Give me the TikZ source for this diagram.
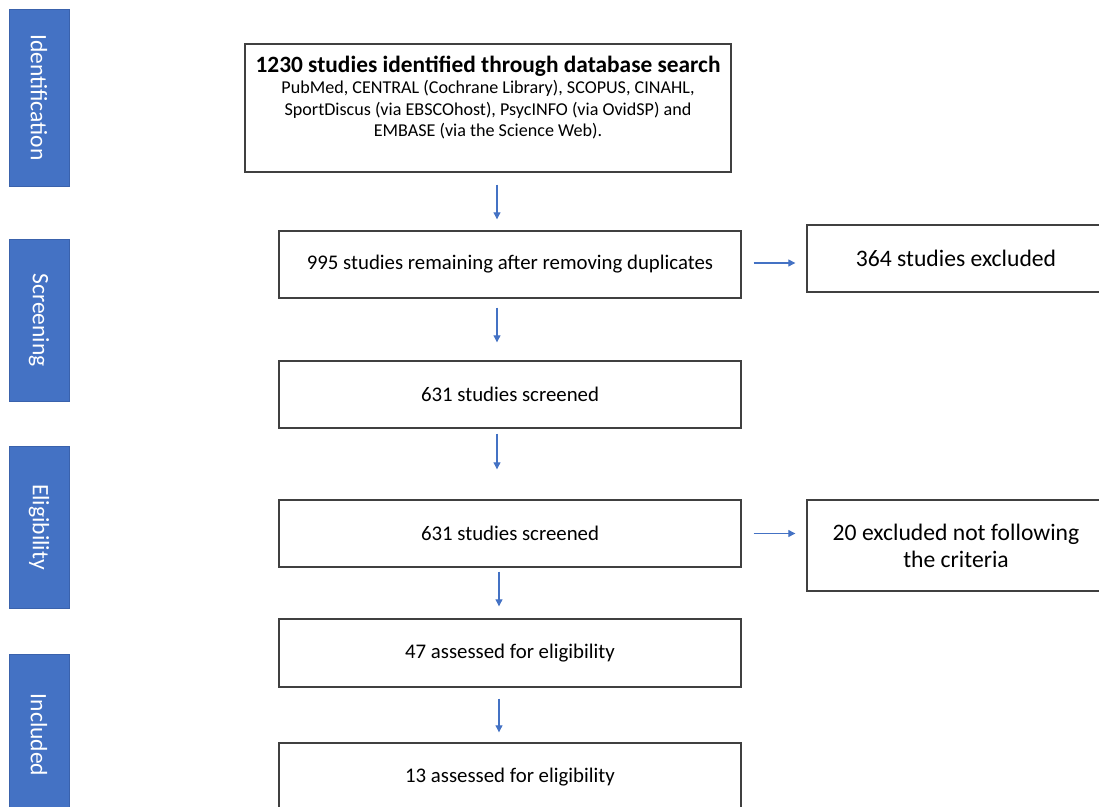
\documentclass[tikz,border=0pt]{standalone}
\usepackage{fontspec}
\setmainfont{Carlito}
\usetikzlibrary{arrows.meta,positioning}

\definecolor{phase}{HTML}{4472C4}
\definecolor{phaseedge}{HTML}{3A62AC}
\definecolor{boxline}{HTML}{404040}

\begin{document}
\begin{tikzpicture}[x=0.02cm,y=-0.02cm,
  phasebar/.style={draw=phaseedge,fill=phase,text=white,rotate=-90,
    minimum height=1.2cm,inner sep=0pt,font=\fontsize{13.4}{16}\selectfont},
  stagebox/.style={draw=boxline,line width=0.8pt,minimum width=9.24cm,
    minimum height=1.34cm,align=center,font=\fontsize{11.85}{14}\selectfont},
  outbox/.style={draw=boxline,line width=0.8pt,minimum width=5.96cm,
    minimum height=1.34cm,align=center,font=\fontsize{13.45}{15.5}\selectfont},
  flow/.style={draw=phase,line width=0.6pt,-{Triangle[length=4pt,width=4pt]}}]
  \clip (0,0) rectangle (1099,807);

  %phase bars on the left
  \node[phasebar,minimum width=3.54cm] (ident) at (39,97.5) {Identification};
  \node[phasebar,minimum width=3.24cm] (screen) at (39,320) {Screening};
  \node[phasebar,minimum width=3.24cm] (elig) at (39,527) {Eligibility};
  \node[phasebar,minimum width=3.24cm] (incl) at (39,735) {Included};

  %main column
  \node[stagebox,minimum width=9.72cm,minimum height=2.56cm,
    font=\fontsize{10.3}{12.3}\selectfont] (search) at (488,108)
    {{\fontsize{13.3}{15}\selectfont\bfseries 1230 studies identified through database search}\\[0pt]
     PubMed, CENTRAL (Cochrane Library), SCOPUS, CINAHL,\\
     SportDiscus (via EBSCOhost), PsycINFO (via OvidSP) and\\
     EMBASE (via the Science Web).\\[1pt]~};
  \node[stagebox] (dupl) at (510,264.5) {995 studies remaining after removing duplicates};
  \node[stagebox] (screenA) at (510,394.5) {631 studies screened};
  \node[stagebox] (screenB) at (510,533.5) {631 studies screened};
  \node[stagebox,minimum height=1.36cm] (assess) at (510,653) {47 assessed for eligibility};
  \node[stagebox,minimum height=1.36cm] (final) at (510,777) {13 assessed for eligibility};

  %excluded boxes
  \node[outbox] (exclA) at (956,258.5) {364 studies excluded};
  \node[outbox,minimum height=1.82cm] (exclB) at (956,545.5) {20 excluded not following\\the criteria};

  %arrows
  \coordinate (axis) at (497,0);
  \coordinate (axisB) at (499,0);
  \draw[flow,shorten <=0.24cm,shorten >=0.22cm] (search.south -| axis) -- (dupl.north -| axis);
  \draw[flow,shorten <=0.18cm,shorten >=0.36cm] (dupl.south -| axis) -- (screenA.north -| axis);
  \draw[flow,shorten <=0.1cm,shorten >=0.6cm] (screenA.south -| axis) -- (screenB.north -| axis);
  \draw[flow,shorten <=0.08cm,shorten >=0.24cm] (screenB.south -| axisB) -- (assess.north -| axisB);
  \draw[flow,shorten <=0.22cm,shorten >=0.2cm] (assess.south -| axisB) -- (final.north -| axisB);
  \draw[flow,shorten <=0.24cm,shorten >=0.22cm] (dupl.east |- 0,263) -- (exclA.west |- 0,263);
  \draw[flow,shorten <=0.24cm,shorten >=0.22cm] (screenB.east) -- (screenB.east -| exclB.west);
\end{tikzpicture}
\end{document}
